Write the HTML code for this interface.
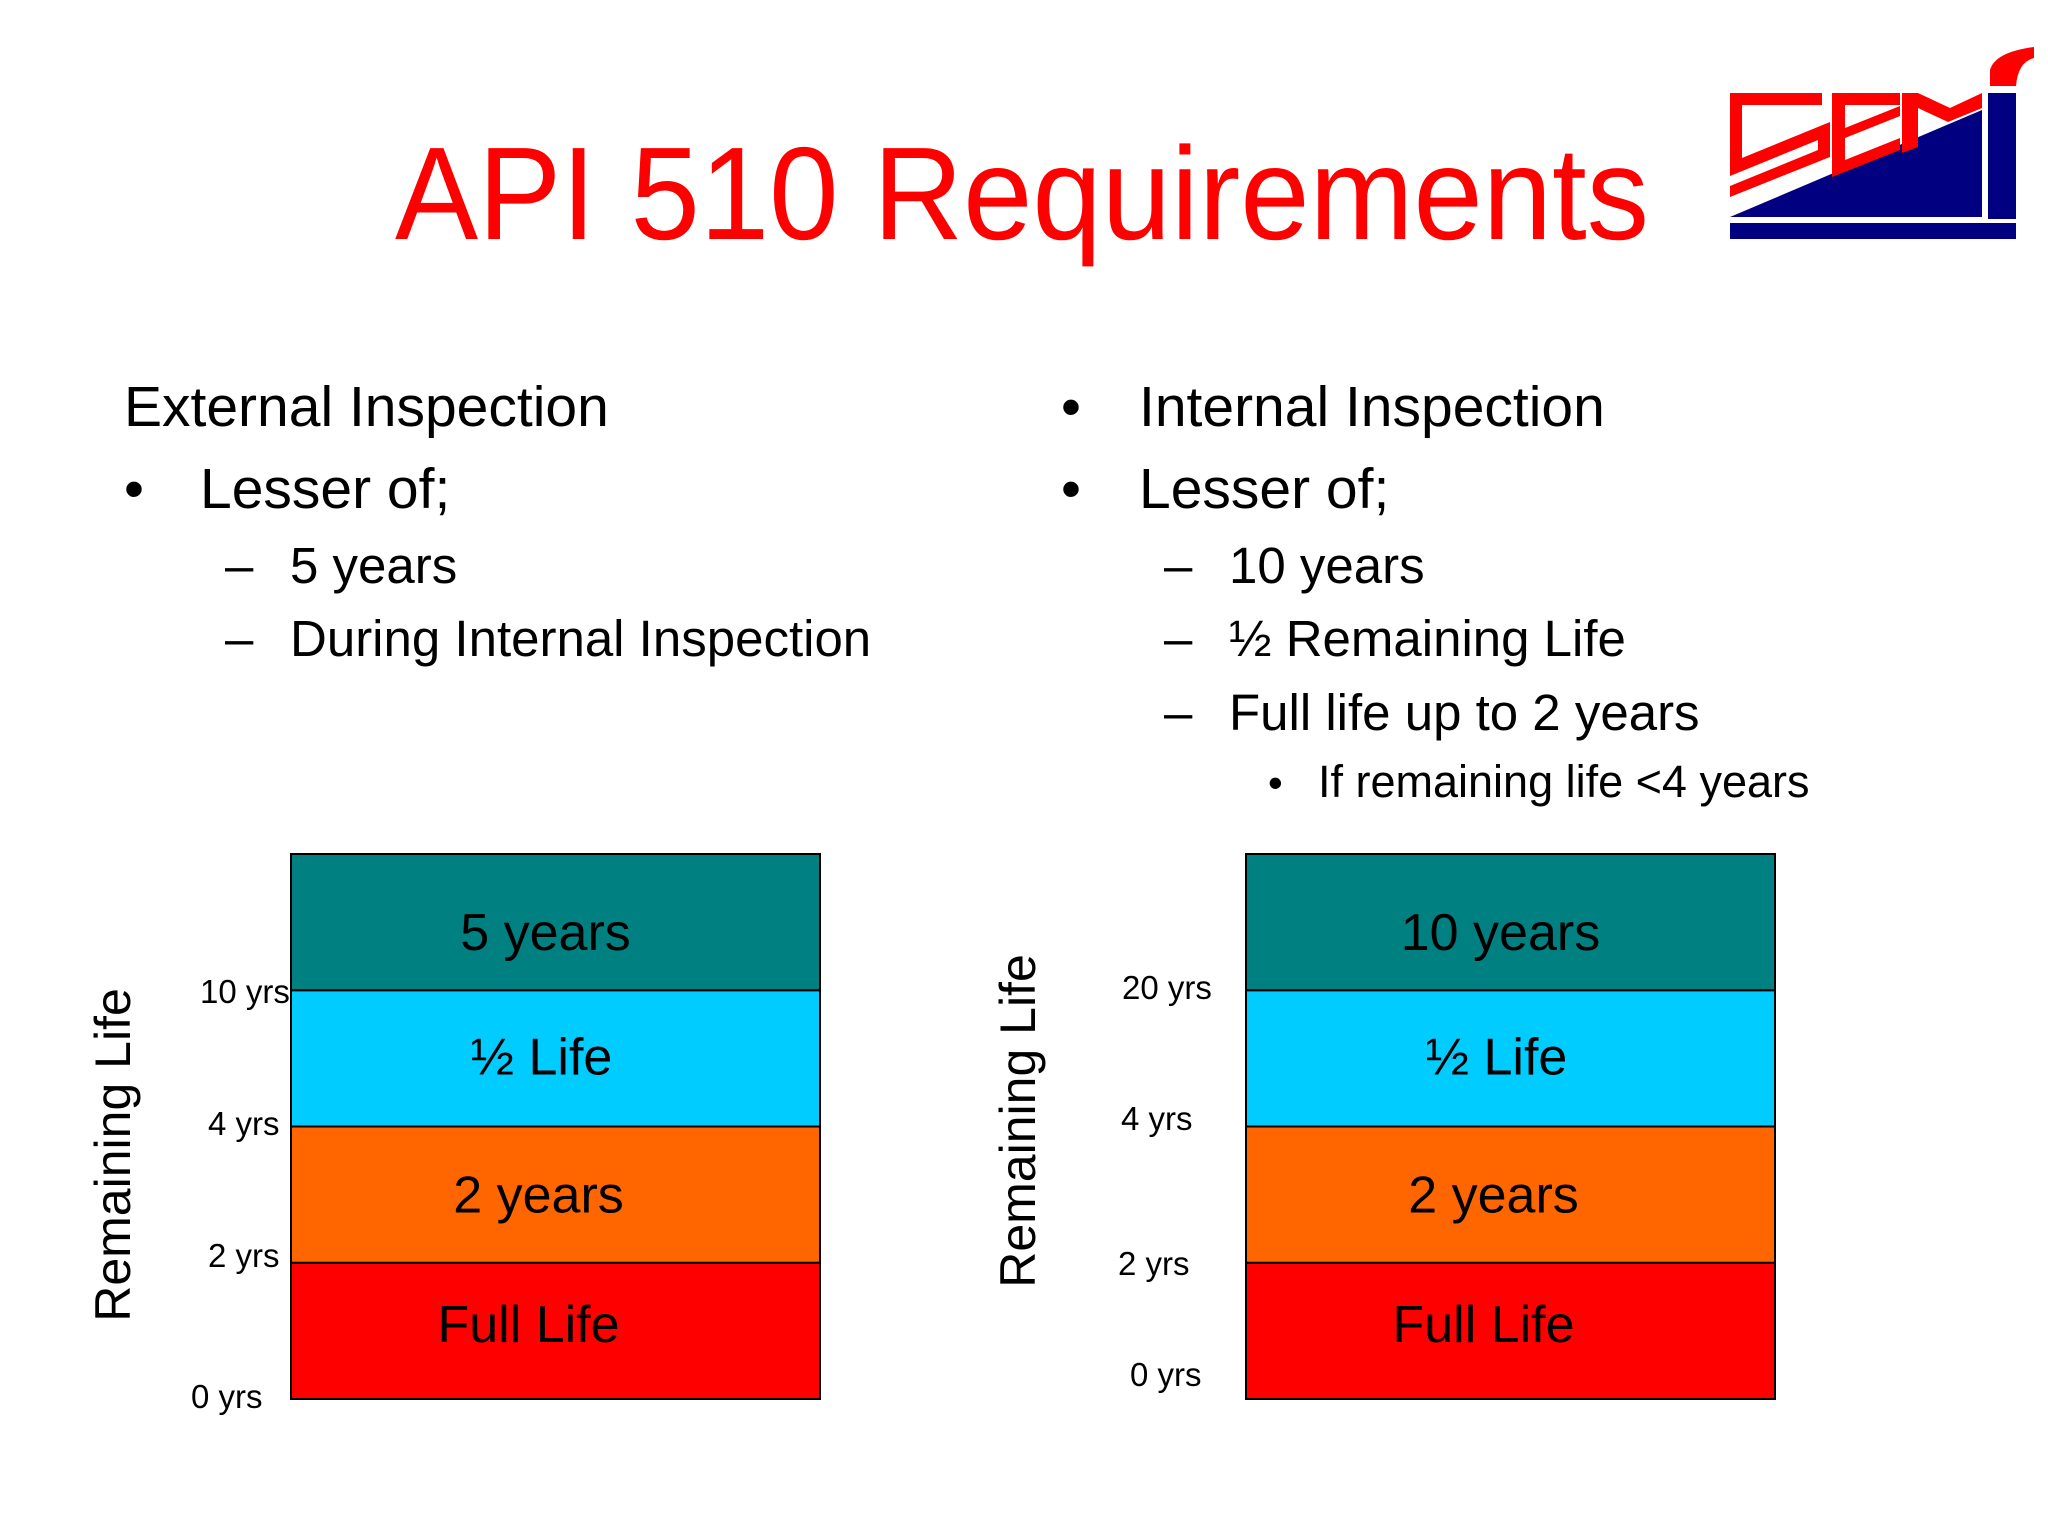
<!DOCTYPE html>
<html><head><meta charset="utf-8"><style>
html,body{margin:0;padding:0;background:#fff}
svg{display:block}
text{font-family:"Liberation Sans",Arial,sans-serif}
</style></head><body>
<svg id="s" width="2048" height="1536" viewBox="0 0 2048 1536" xmlns="http://www.w3.org/2000/svg">
<rect width="2048" height="1536" fill="#fff"/>
<text x="1022" y="239" font-size="132" fill="#ff0000" text-anchor="middle" textLength="1254" lengthAdjust="spacingAndGlyphs">API 510 Requirements</text>
<g>
<rect x="1730" y="223" width="286" height="16" fill="#000080"/>
<polygon points="1730,217 1982,110 1982,217" fill="#000080"/>
<rect x="1988" y="93" width="28" height="126" fill="#000080"/>
<path d="M1990,86 L1990,70 Q1995,52 2034,47 L2034,58 Q2018,62 2016,86 Z" fill="#ff0000"/>
<path d="M1730,93 H1822 V105 H1742 V158 L1830,122 L1830,157 L1730,197 V186 L1818,150 V140 L1730,176 Z" fill="#ff0000"/>
<path d="M1832,93 H1900 V105 H1845 V128 L1900,106 V116 L1845,138 V160 L1900,138 V150 L1832,177 Z" fill="#ff0000"/>
<path d="M1902,93 H1918 L1950,108 L1982,93 V108 L1948,122 L1918,108 V147 L1902,153 Z" fill="#ff0000"/>
</g>
<g font-size="57" fill="#000">
<text x="124" y="426">External Inspection</text>
<text x="124" y="508">•</text>
<text x="200" y="508">Lesser of;</text>
<g font-size="51">
<text x="225" y="583">–</text>
<text x="290" y="583">5 years</text>
<text x="225" y="656">–</text>
<text x="290" y="656">During Internal Inspection</text>
</g>
<text x="1061" y="426">•</text>
<text x="1139" y="426">Internal Inspection</text>
<text x="1061" y="508">•</text>
<text x="1139" y="508">Lesser of;</text>
<g font-size="51">
<text x="1164" y="583">–</text>
<text x="1229" y="583">10 years</text>
<text x="1164" y="656">–</text>
<text x="1229" y="656">½ Remaining Life</text>
<text x="1164" y="730">–</text>
<text x="1229" y="730">Full life up to 2 years</text>
</g>
<text x="1268" y="797" font-size="42">•</text>
<text x="1318" y="797" font-size="45">If remaining life &lt;4 years</text>
</g>
<g id="charts"></g>
</svg>
<script>
const bandLabelsLeft = ["Full Life", "2 years", "½ Life", "5 years"];
const bandLabelsRight = ["Full Life", "2 years", "½ Life", "10 years"];
const bandColors = ["#ff0000", "#ff6600", "#00ccff", "#008080"];
const tickLabelsLeft = ["0 yrs", "2 yrs", "4 yrs", "10 yrs"];
const tickLabelsRight = ["0 yrs", "2 yrs", "4 yrs", "20 yrs"];
const NS = "http://www.w3.org/2000/svg";
const chartsG = document.getElementById('charts');
function mk(tag, attrs, parent) {
  const e = document.createElementNS(NS, tag);
  for (const k in attrs) e.setAttribute(k, attrs[k]);
  parent.appendChild(e);
  return e;
}
const chartTop = 854, chartBottom = 1399, bandH = (chartBottom - chartTop) / 4;
const labelDy = [11, 18, 16, 28];
const labelDx = [-27, -17, -14, -10];
function yBand(i) { return chartBottom - (i + 1) * bandH; }
function drawChart(x0, labels, ticks, tickPos, titleX, titleY, name) {
  const cg = mk('g', {}, chartsG);
  
  
  const w = 529;
  labels.forEach((lab, i) => {
    const r = mk('rect', {x: x0, y: yBand(i), width: w, height: bandH, fill: bandColors[i], stroke: '#000', 'stroke-width': 2}, cg);
    
    
    const t = mk('text', {x: x0 + w / 2 + labelDx[i], y: yBand(i) + bandH / 2 + labelDy[i], 'font-size': 52, 'text-anchor': 'middle', fill: '#000'}, cg);
    
    
    t.textContent = lab;
  });
  ticks.forEach((tk, i) => {
    const t = mk('text', {x: tickPos[i][0], y: tickPos[i][1], 'font-size': 33, fill: '#000'}, cg);
    
    
    t.textContent = tk;
  });
  const tt = mk('text', {x: 0, y: 0, 'font-size': 50, 'text-anchor': 'middle', fill: '#000', transform: 'translate(' + titleX + ',' + titleY + ') rotate(-90)'}, cg);
  
  
  tt.textContent = 'Remaining Life';
}
drawChart(291, bandLabelsLeft, tickLabelsLeft, [[191,1408],[208,1267],[208,1135],[200,1003]], 130, 1155, 'left-chart');
drawChart(1246, bandLabelsRight, tickLabelsRight, [[1130,1386],[1118,1275],[1121,1130],[1122,999]], 1035, 1121, 'right-chart');
</script>
</body></html>
